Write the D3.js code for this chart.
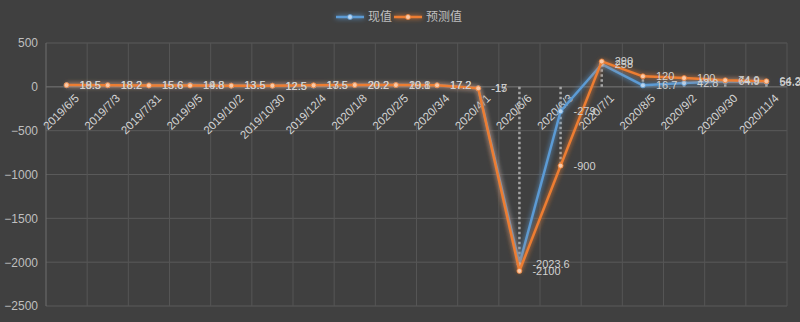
<!DOCTYPE html>
<html>
<head>
<meta charset="utf-8">
<script src="https://cdnjs.cloudflare.com/ajax/libs/d3/7.8.5/d3.min.js"></script>
<style>
  body { margin: 0; background: #404040; }
  svg { display: block; font-family: "Liberation Sans", "Noto Sans CJK SC", sans-serif; }
</style>
</head>
<body>
<svg id="chart" width="800" height="322"></svg>
<script>
// categories and values
const dates = ["2019/6/5", "2019/7/3", "2019/7/31", "2019/9/5", "2019/10/2", "2019/10/30",
    "2019/12/4", "2020/1/8", "2020/2/5", "2020/3/4", "2020/4/1", "2020/5/6",
    "2020/6/3", "2020/7/1", "2020/8/5", "2020/9/2", "2020/9/30", "2020/11/4"];
const actual = [18.5, 18.2, 15.6, 19.8, 13.5, 12.5, 13.5, 20.2, 19.8, 17.2, -15, -2023.6,
    -279, 258, 16.7, 42.8, 64.9, 56.3];
const forecast = [19.5, 18.2, 15.6, 14.8, 13.5, 12.5, 17.5, 20.2, 20.1, 17.2, -17, -2100,
    -900, 290, 120, 100, 74.9, 64.2];
const yTicks = [500, 0, -500, -1000, -1500, -2000, -2500];
const seriesNames = ["现值", "预测值"];

const margin = {top: 43, right: 13, bottom: 16, left: 46},
    width = 800 - margin.left - margin.right,
    height = 322 - margin.top - margin.bottom;

const svg = d3.select("#chart");

const colors = ["#5b9bd5", "#ed7d31"];
const markerFill = ["#b8d4ee", "#f8c9a8"];

// glow filters (user space so flat lines still get them)
const defs = svg.append("defs");
colors.forEach(function (c, i) {
    const f = defs.append("filter").attr("id", "glow" + i)
        .attr("filterUnits", "userSpaceOnUse")
        .attr("x", -50).attr("y", -50).attr("width", 900).attr("height", 420);
    f.append("feGaussianBlur").attr("in", "SourceGraphic").attr("stdDeviation", 2.6).attr("result", "blur");
    const m = f.append("feMerge");
    m.append("feMergeNode").attr("in", "blur");
    m.append("feMergeNode").attr("in", "SourceGraphic");
});

const g = svg.append("g")
    .attr("transform", "translate(" + margin.left + "," + margin.top + ")");

const x = d3.scaleBand().domain(dates).range([0, width]).padding(0);
const y = d3.scaleLinear().domain([-2500, 500]).range([height, 0]);
const cx = function (d) { return x(d) + x.bandwidth() / 2; };

// horizontal grid
g.append("g")
    .selectAll("line")
    .data(yTicks)
    .enter().append("line")
    .attr("x1", 0).attr("x2", width)
    .attr("y1", function (d) { return y(d); })
    .attr("y2", function (d) { return y(d); })
    .attr("stroke", "#5a5a5a")
    .attr("stroke-width", 1);

// vertical grid at category borders
g.append("g")
    .selectAll("line")
    .data(dates)
    .enter().append("line")
    .attr("x1", function (d) { return x(d) + x.bandwidth(); })
    .attr("x2", function (d) { return x(d) + x.bandwidth(); })
    .attr("y1", 0).attr("y2", height)
    .attr("stroke", "#555555")
    .attr("stroke-width", 1);

// y axis
g.append("line")
    .attr("x1", 0).attr("x2", 0).attr("y1", 0).attr("y2", height)
    .attr("stroke", "#6e6e6e");

g.append("g")
    .attr("class", "y-axis")
    .call(d3.axisLeft(y).tickValues(yTicks).tickSize(0).tickPadding(8).tickFormat(d3.format("d")))
    .call(function (s) { s.select(".domain").remove(); })
    .selectAll("text")
    .attr("fill", "#bfbfbf")
    .style("font-size", "12px");

// category axis sits at zero
g.append("line")
    .attr("x1", 0).attr("x2", width).attr("y1", y(0)).attr("y2", y(0))
    .attr("stroke", "#6e6e6e");

g.append("g")
    .selectAll("text")
    .data(dates)
    .enter().append("text")
    .attr("transform", function (d) {
        return "translate(" + (cx(d) + 7) + "," + (y(0) + 6) + ") rotate(-45)";
    })
    .attr("text-anchor", "end")
    .attr("dy", "0.75em")
    .attr("fill", "#d4d4d4")
    .style("font-size", "11.5px")
    .text(function (d) { return d; });

// drop lines from zero to the farthest point
g.append("g")
    .selectAll("line")
    .data(dates)
    .enter().append("line")
    .attr("x1", cx).attr("x2", cx)
    .attr("y1", y(0))
    .attr("y2", function (d, i) {
        const a = actual[i], b = forecast[i];
        return y(Math.abs(a) > Math.abs(b) ? a : b);
    })
    .attr("stroke", "#a6a6a6")
    .attr("stroke-width", 2.5)
    .attr("stroke-dasharray", "2.5,2.5");

const line = d3.line()
    .x(function (d, i) { return cx(dates[i]); })
    .y(function (d) { return y(d); });

[actual, forecast].forEach(function (vals, k) {
    const s = g.append("g").attr("class", "series-" + k);
    s.append("path")
        .datum(vals)
        .attr("fill", "none")
        .attr("stroke", colors[k])
        .attr("stroke-width", 2.5)
        .attr("stroke-linejoin", "round")
        .attr("filter", "url(#glow" + k + ")")
        .attr("d", line);

    s.selectAll("circle")
        .data(vals)
        .enter().append("circle")
        .attr("cx", function (d, i) { return cx(dates[i]); })
        .attr("cy", function (d) { return y(d); })
        .attr("r", 2.5)
        .attr("fill", markerFill[k])
        .attr("stroke", colors[k])
        .attr("stroke-width", 0.8);
});

// data labels
[actual, forecast].forEach(function (vals, k) {
    g.append("g")
        .selectAll("text")
        .data(vals)
        .enter().append("text")
        .attr("x", function (d, i) { return cx(dates[i]) + 13; })
        .attr("y", function (d) { return y(d); })
        .attr("dy", "0.35em")
        .attr("fill", "#d0d0d0")
        .style("font-size", "11px")
        .text(function (d) { return d; });
});

// legend
const legend = svg.append("g").attr("transform", "translate(336,17)");
const legendX = [0, 58];
seriesNames.forEach(function (name, k) {
    const it = legend.append("g").attr("transform", "translate(" + legendX[k] + ",0)");
    it.append("path")
        .attr("d", "M0,0H28")
        .attr("stroke", colors[k]).attr("stroke-width", 2.5)
        .attr("filter", "url(#glow" + k + ")");
    it.append("circle")
        .attr("cx", 14).attr("cy", 0).attr("r", 2.5)
        .attr("fill", markerFill[k]).attr("stroke", colors[k]).attr("stroke-width", 0.8);
    it.append("text")
        .attr("x", 32).attr("y", 0).attr("dy", "0.35em")
        .attr("fill", "#bfbfbf")
        .style("font-size", "12px")
        .text(name);
});
</script>
</body>
</html>
